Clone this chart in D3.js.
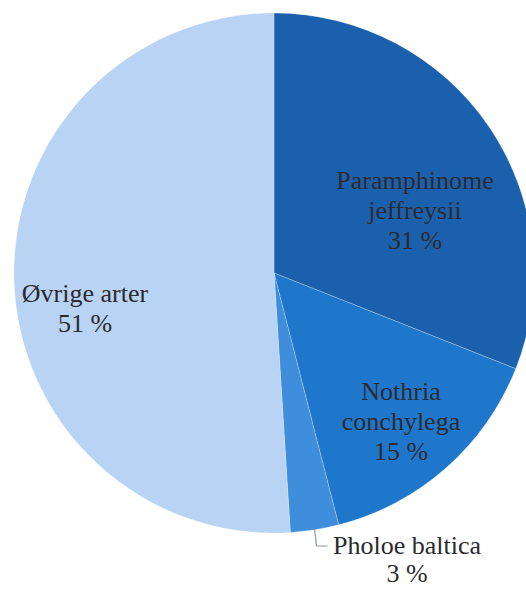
<!DOCTYPE html>
<html>
<head>
<meta charset="utf-8">
<script src="https://cdn.jsdelivr.net/npm/d3@7"></script>
<style>
  html, body { margin: 0; padding: 0; background: #ffffff; }
  svg { display: block; }
</style>
</head>
<body>
<svg id="chart" width="526" height="589"></svg>
<script>
// Species share of individuals
const species = ["Paramphinome jeffreysii", "Nothria conchylega", "Pholoe baltica", "Øvrige arter"];
const shares = [31, 15, 3, 51];
const labelLines = [["Paramphinome", "jeffreysii"], ["Nothria", "conchylega"], ["Pholoe baltica"], ["Øvrige arter"]];
const sliceColors = ["#1b60ad", "#1f77cc", "#3f8edb", "#b9d3f4"];

// Layout
const cx = 274, cy = 273, radius = 260;
const labelFont = "'Liberation Serif', 'DejaVu Serif', Times, serif";
// label block anchors, relative to the pie centre (first baseline)
const labelAnchors = [
  { x: 141, y: -84, outside: false, gap: 30 },
  { x: 127, y: 127, outside: false, gap: 30 },
  { x: 133, y: 281, outside: true, gap: 28 },
  { x: -189, y: 29, outside: false, gap: 30 }
];

const svg = d3.select("#chart");
const g = svg.append("g").attr("transform", `translate(${cx},${cy})`);

const pie = d3.pie().sort(null).value(d => d.value);
const arc = d3.arc().innerRadius(0).outerRadius(radius);

const data = species.map((s, i) => ({ name: s, value: shares[i], lines: labelLines[i], color: sliceColors[i], anchor: labelAnchors[i] }));
const arcs = pie(data);

g.selectAll("path.slice")
  .data(arcs)
  .enter().append("path")
  .attr("class", "slice")
  .attr("d", arc)
  .attr("fill", d => d.data.color)
  .attr("stroke", "#ffffff")
  .attr("stroke-opacity", 0.3)
  .attr("stroke-width", 0.8);

// leader line for the small slice placed outside
arcs.filter(d => d.data.anchor.outside).forEach(d => {
  const mid = (d.startAngle + d.endAngle) / 2;
  const ex = Math.sin(mid) * (radius - 1);
  const ey = -Math.cos(mid) * (radius - 1);
  const a = d.data.anchor;
  g.append("path")
    .attr("d", `M${ex},${ey} L${ex + 2},${a.y - 8} L${ex + 13},${a.y - 8}`)
    .attr("fill", "none")
    .attr("stroke", "#8f96a8")
    .attr("stroke-width", 1.2);
});

const labels = g.selectAll("text.label")
  .data(arcs)
  .enter().append("text")
  .attr("class", "label")
  .attr("text-anchor", "middle")
  .attr("font-family", labelFont)
  .style("font-family", labelFont)
  .attr("font-size", 26)
  .attr("fill", "#2b2b2e")
  .attr("x", d => d.data.anchor.x)
  .attr("y", d => d.data.anchor.y);

labels.each(function(d) {
  const t = d3.select(this);
  const lines = d.data.lines.concat([d3.format("d")(d.value) + " %"]);
  lines.forEach((ln, i) => {
    t.append("tspan")
      .attr("x", d.data.anchor.x)
      .attr("dy", i === 0 ? 0 : d.data.anchor.gap)
      .text(ln);
  });
});
</script>
</body>
</html>
